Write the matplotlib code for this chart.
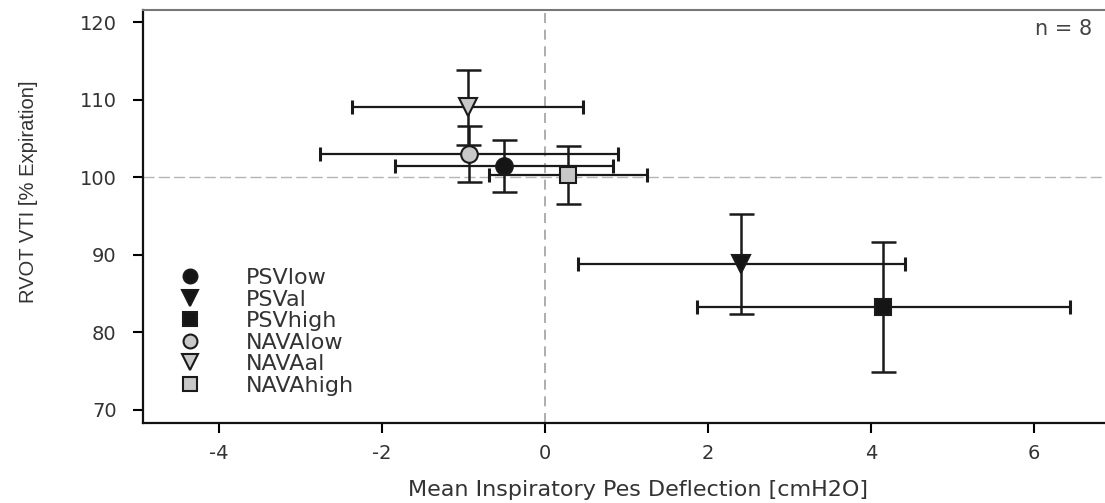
import matplotlib
matplotlib.use("Agg")
import matplotlib.pyplot as plt
from matplotlib.lines import Line2D

# group summary: mean +/- sd
groups = ["PSVlow", "PSVal", "PSVhigh", "NAVAlow", "NAVAal", "NAVAhigh"]
pes_mean = [-0.50, 2.41, 4.15, -0.93, -0.95, 0.28]
pes_sd = [1.34, 2.01, 2.29, 1.83, 1.42, 0.97]
vti_mean = [101.45, 88.75, 83.25, 103.0, 109.0, 100.25]
vti_sd = [3.35, 6.45, 8.35, 3.6, 4.8, 3.75]
markers = ["o", "v", "s", "o", "v", "s"]
fills = ["#151515", "#151515", "#151515", "#c8c8c8", "#c8c8c8", "#c8c8c8"]
msizes = [12, 13, 12, 12, 13, 12]

xticks = [-4, -2, 0, 2, 4, 6]
yticks = [70, 80, 90, 100, 110, 120]

plt.rcParams["font.family"] = ["DejaVu Sans"]
plt.rcParams["axes.unicode_minus"] = False

fig = plt.figure(figsize=(11.05, 5.03), dpi=100)
ax = fig.add_axes([143 / 1105, 1 - 423 / 503, 989 / 1105, 413 / 503])

ax.axvline(0, color="#a0a0a0", lw=1.2, ls=(0, (6, 4)), zorder=1)
ax.axhline(100, color="#b5b5b5", lw=1.0, ls=(0, (8, 3)), zorder=1)

for i in range(len(groups)):
    ax.errorbar(pes_mean[i], vti_mean[i], xerr=pes_sd[i], fmt="none",
                ecolor="#1a1a1a", elinewidth=1.6, capsize=5, capthick=2.2, zorder=2)
    ax.errorbar(pes_mean[i], vti_mean[i], yerr=vti_sd[i], fmt="none",
                ecolor="#1a1a1a", elinewidth=1.8, capsize=9, capthick=1.8, zorder=2)
    ax.plot(pes_mean[i], vti_mean[i], marker=markers[i], ms=msizes[i],
            mfc=fills[i], mec="#1a1a1a", mew=1.5, ls="none", zorder=3)

ax.set_xlim(-4.93, 7.2)
ax.set_ylim(68.3, 121.55)
ax.set_xticks(xticks)
ax.set_yticks(yticks)
ax.tick_params(direction="out", length=7, width=1.5, labelsize=14,
               labelcolor="#333333")
ax.tick_params(axis="y", pad=12)
ax.tick_params(axis="x", pad=8)

for s in ["left", "bottom"]:
    ax.spines[s].set_linewidth(1.6)
    ax.spines[s].set_color("#111111")
ax.spines["top"].set_color("#777777")
ax.spines["top"].set_linewidth(1.5)
ax.spines["right"].set_visible(False)

ax.set_xlabel("Mean Inspiratory Pes Deflection [cmH2O]", fontsize=16,
              color="#333333", labelpad=12)
ax.set_ylabel("RVOT VTI [% Expiration]", fontsize=14.5, color="#333333",
              family="Liberation Sans")
ax.yaxis.set_label_coords(-0.106, 0.559)

ax.text(6.01, 119.1, "n = 8", fontsize=15, color="#444444",
        ha="left", va="center", clip_on=False)

handles = [Line2D([], [], marker=markers[i], ms=msizes[i] - 2, mfc=fills[i],
                  mec="#1a1a1a", mew=1.5, ls="none") for i in range(len(groups))]
ax.legend(handles, groups, loc="upper left", bbox_to_anchor=(179 / 1105, 1 - 268 / 503),
          bbox_transform=fig.transFigure, frameon=False, fontsize=16,
          handlelength=1.0, handletextpad=2.0, labelspacing=0.07,
          borderpad=0, borderaxespad=0, labelcolor="#333333")

fig.savefig("out.png", dpi=100)
